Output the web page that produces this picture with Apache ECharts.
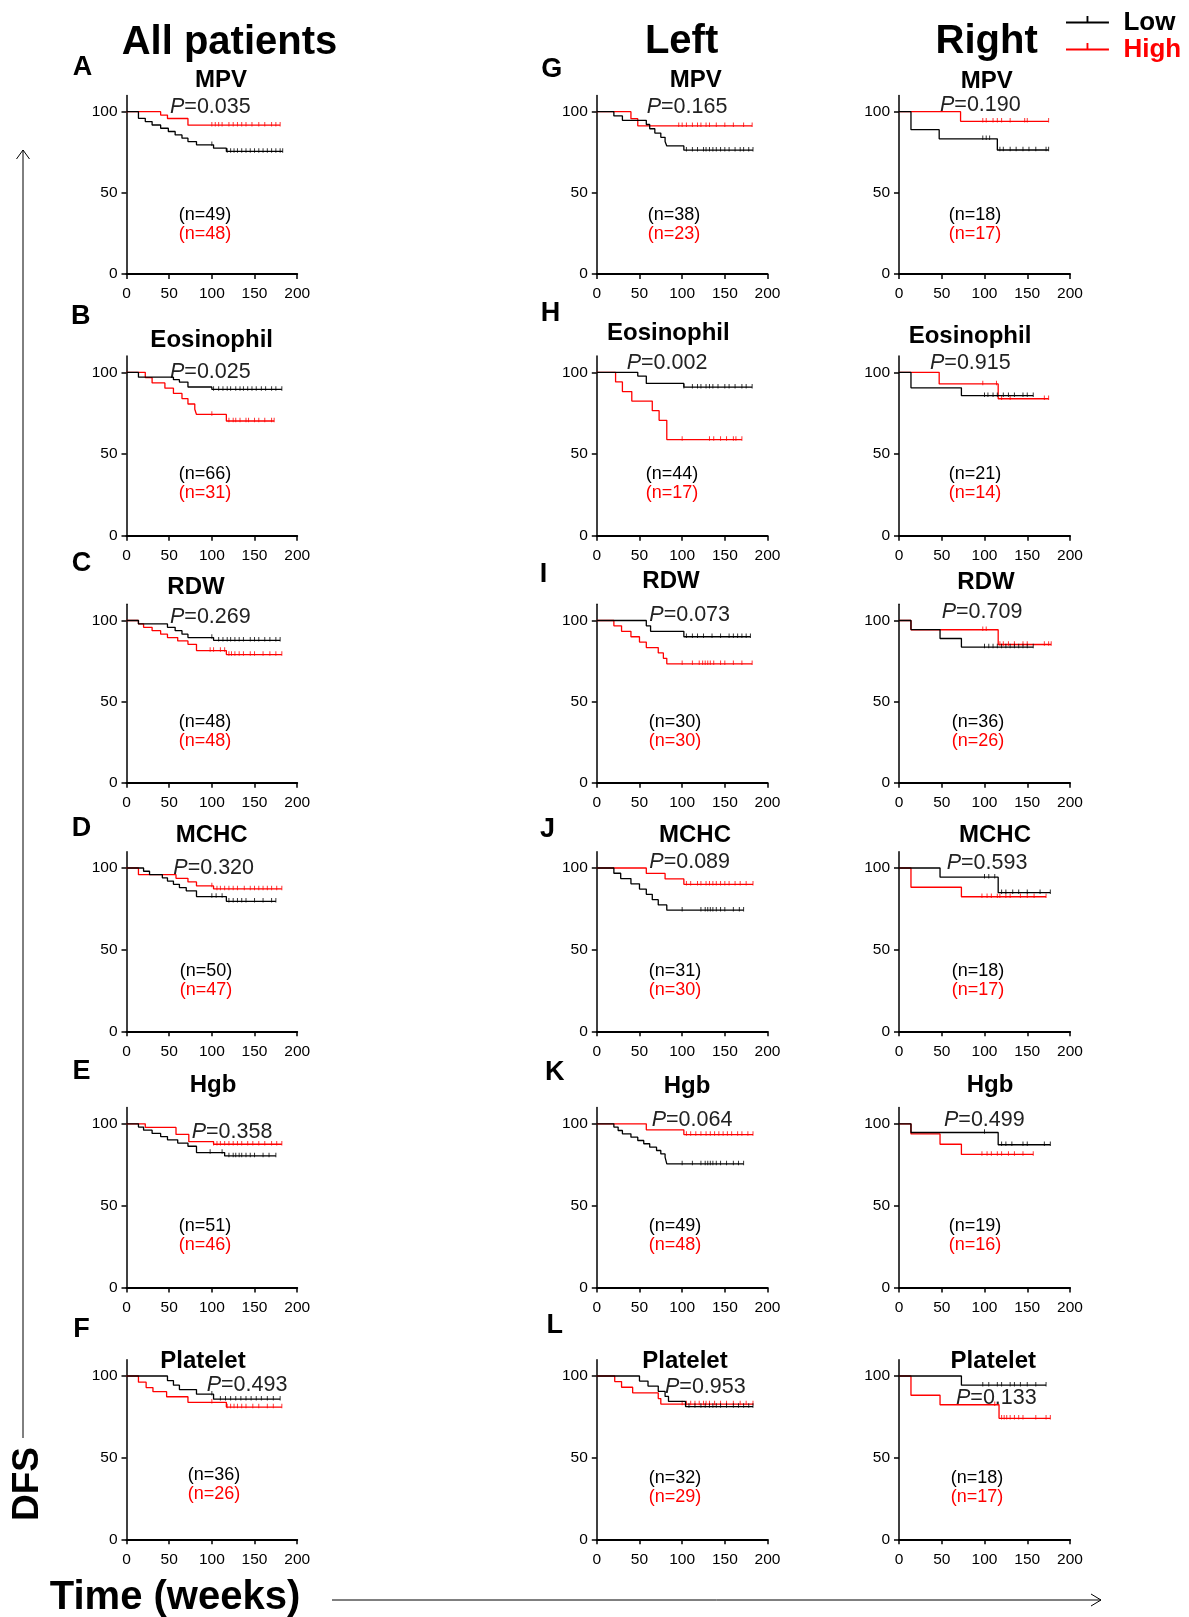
<!DOCTYPE html>
<html>
<head>
<meta charset="utf-8">
<title>DFS Kaplan-Meier panels</title>
<script src="https://cdn.jsdelivr.net/npm/echarts@6/dist/echarts.min.js"></script>
<style>
  html, body { margin: 0; padding: 0; background: #fff; }
  #main { width: 1189px; height: 1617px; }
</style>
</head>
<body>
<div id="main"></div>
<script>
  // ---- data: KM steps [week, DFS %] and censor weeks ----
  // All patients
  var A_low = [[0,100],[14,95.9],[22,93.9],[30,91.8],[40,89.8],[49,87.8],[57,85.7],[65,83.7],[72,81.6],[82,79.6],[102,77.5],[117,75.5]];
  var A_lowCens = [100,118,122,126,130,135,140,145,150,155,160,165,170,175,180,183];
  var A_high = [[0,100],[40,97.9],[48,95.8],[72,91.7]];
  var A_highCens = [100,104,108,112,120,125,130,135,140,147,155,162,170,175,180];

  var B_low = [[0,100],[14,97],[55,95.5],[62,94],[72,91],[100,89.5]];
  var B_lowCens = [102,108,113,118,122,128,133,137,142,147,152,158,163,170,175,182];
  var B_high = [[0,100],[22,96.8],[30,93.5],[45,90.3],[55,87.1],[65,83.9],[72,80.6],[80,77.4],[82,74.2],[117,70.2]];
  var B_highCens = [100,120,125,128,133,140,143,150,155,162,170,173];

  var C_low = [[0,100],[14,97.9],[48,95.8],[57,93.7],[65,91.6],[72,89.5],[102,87.8]];
  var C_lowCens = [100,108,113,118,122,127,132,137,145,150,155,162,168,175,180];
  var C_high = [[0,100],[14,97.9],[20,95.8],[30,93.7],[40,91.6],[48,89.5],[60,87.4],[72,85.3],[82,81.5],[117,79]];
  var C_highCens = [98,102,110,115,120,123,127,132,137,145,150,160,168,175,182];

  var D_low = [[0,100],[20,98],[27,96],[42,94],[48,92],[55,90],[62,88],[70,86],[82,82.5],[117,79.6]];
  var D_lowCens = [100,105,112,120,125,130,135,140,150,160,170,175];
  var D_high = [[0,100],[14,95.9],[58,93.7],[72,91.5],[82,89],[102,87.2]];
  var D_highCens = [100,106,110,115,120,125,130,138,145,150,155,160,165,170,176,182];

  var E_low = [[0,100],[14,98],[20,96.1],[30,94.1],[40,92.2],[48,90.2],[60,88.2],[72,86.3],[82,82.4],[115,80.4]];
  var E_lowCens = [98,112,120,125,128,132,135,140,145,150,160,167,175];
  var E_high = [[0,100],[22,97.8],[58,93.5],[73,89.1],[102,87.5]];
  var E_highCens = [102,106,110,115,120,125,130,135,142,148,155,162,170,176,182];

  var F_low = [[0,100],[48,97.2],[55,94.4],[62,91.7],[82,88.9],[102,85.8]];
  var F_lowCens = [100,110,116,122,128,134,140,146,152,158,165,172,180];
  var F_high = [[0,100],[14,96.2],[23,92.9],[31,90.4],[47,87.3],[72,83.9],[117,81]];
  var F_highCens = [100,118,122,126,130,135,140,148,155,165,172,182];

  // Left
  var G_low = [[0,100],[20,97.4],[30,94.7],[58,92.1],[62,89.5],[68,86.8],[75,84.2],[80,81.6],[82,78.9],[102,76.3]];
  var G_lowCens = [105,112,118,125,128,132,136,140,145,150,155,162,168,172,178,183];
  var G_high = [[0,100],[40,95.7],[48,91.3]];
  var G_highCens = [96,100,105,112,118,122,128,132,140,150,160,172,182];

  var H_low = [[0,100],[48,97.7],[58,93.2],[102,90.9]];
  var H_lowCens = [102,112,118,122,128,132,136,142,150,155,162,170,175,182];
  var H_high = [[0,100],[22,94.1],[30,88.2],[41,82.4],[65,76.5],[73,70.6],[82,58.8]];
  var H_highCens = [100,132,137,145,152,160,163,170];

  var I_low = [[0,100],[58,96.7],[63,93.3],[102,90]];
  var I_lowCens = [105,112,118,125,135,145,155,160,165,170,175,180];
  var I_high = [[0,100],[20,96.7],[29,93.3],[40,90],[50,86.7],[58,83.3],[72,80],[78,76.7],[82,73.3]];
  var I_highCens = [100,112,120,124,127,130,133,137,145,150,160,170,182];

  var J_low = [[0,100],[20,96.8],[28,93.5],[40,90.3],[50,87.1],[58,83.9],[65,80.6],[72,77.4],[82,74.2]];
  var J_lowCens = [100,122,127,130,133,136,140,145,150,160,167,172];
  var J_high = [[0,100],[58,96.7],[80,93.3],[102,90]];
  var J_highCens = [105,110,118,122,128,132,136,140,145,150,155,162,168,175,183];

  var K_low = [[0,100],[20,98],[25,95.9],[30,93.9],[40,91.8],[48,89.8],[55,87.8],[62,85.7],[70,83.7],[75,81.6],[80,79.6],[82,75.5]];
  var K_lowCens = [100,112,122,127,130,133,136,140,145,152,160,166,172];
  var K_high = [[0,100],[58,96.3],[102,93.4]];
  var K_highCens = [105,110,116,122,128,133,138,143,148,153,158,165,170,177,183];

  var L_low = [[0,100],[50,96.9],[60,93.8],[72,90.6],[80,87.5],[84,84.4],[104,81.3]];
  var L_lowCens = [108,115,122,127,132,136,140,145,152,160,166,172,178,183];
  var L_high = [[0,100],[21,96.6],[29,93.1],[42,89.7],[72,86.2],[75,82.8]];
  var L_highCens = [100,105,110,115,120,125,128,132,138,145,152,160,168,175,183];

  // Right
  var M_low = [[0,100],[14,88.9],[47,83.3],[115,76.4]];
  var M_lowCens = [98,102,106,118,122,130,137,145,152,160,172,175];
  var M_high = [[0,100],[72,94.1]];
  var M_highCens = [98,102,110,115,120,130,147,150,175];

  var N_low = [[0,100],[14,90.5],[73,85.7]];
  var N_lowCens = [100,104,110,115,122,128,135,145,150,157];
  var N_high = [[0,100],[47,92.9],[116,83.8]];
  var N_highCens = [98,114,120,130,170,175];

  var O_low = [[0,100],[14,94.4],[48,88.9],[73,83.6]];
  var O_lowCens = [100,105,110,115,120,125,130,135,140,145,150,157];
  var O_high = [[0,100],[14,94.3],[116,85.2]];
  var O_highCens = [98,102,118,122,128,135,145,150,170,175,178];

  var P_low = [[0,100],[48,94.4],[116,84.9]];
  var P_lowCens = [100,105,112,120,125,133,140,150,165,177];
  var P_high = [[0,100],[14,88.2],[73,82.4]];
  var P_highCens = [97,103,108,115,118,125,130,142,150,158,172];

  var Q_low = [[0,100],[14,94.7],[116,87.2]];
  var Q_lowCens = [100,120,125,132,145,150,170,177];
  var Q_high = [[0,100],[14,93.8],[48,87.5],[73,81.3]];
  var Q_highCens = [97,103,108,115,120,128,135,145,157];

  var R_low = [[0,100],[73,94.4]];
  var R_lowCens = [98,105,115,120,130,135,142,150,160,172];
  var R_high = [[0,100],[14,88.2],[48,82.4],[117,74.1]];
  var R_highCens = [112,120,123,126,130,135,140,145,160,172,177];

  var titles = ['MPV','Eosinophil','RDW','MCHC','Hgb','Platelet'];
  var columnTitles = ['All patients','Left','Right'];
  var letters = ['A','B','C','D','E','F','G','H','I','J','K','L'];
  var pValues = ['0.035','0.025','0.269','0.320','0.358','0.493',
                 '0.165','0.002','0.073','0.089','0.064','0.953',
                 '0.190','0.915','0.709','0.593','0.499','0.133'];
  var nLow  = [49,66,48,50,51,36, 38,44,30,31,49,32, 18,21,36,18,19,18];
  var nHigh = [48,31,48,47,46,26, 23,17,30,30,48,29, 17,14,26,17,16,17];
  var xTicks = [0,50,100,150,200];
  var yTicks = [0,50,100];

  var lowSteps  = [A_low,B_low,C_low,D_low,E_low,F_low,G_low,H_low,I_low,J_low,K_low,L_low,M_low,N_low,O_low,P_low,Q_low,R_low];
  var lowCens   = [A_lowCens,B_lowCens,C_lowCens,D_lowCens,E_lowCens,F_lowCens,G_lowCens,H_lowCens,I_lowCens,J_lowCens,K_lowCens,L_lowCens,M_lowCens,N_lowCens,O_lowCens,P_lowCens,Q_lowCens,R_lowCens];
  var highSteps = [A_high,B_high,C_high,D_high,E_high,F_high,G_high,H_high,I_high,J_high,K_high,L_high,M_high,N_high,O_high,P_high,Q_high,R_high];
  var highCens  = [A_highCens,B_highCens,C_highCens,D_highCens,E_highCens,F_highCens,G_highCens,H_highCens,I_highCens,J_highCens,K_highCens,L_highCens,M_highCens,N_highCens,O_highCens,P_highCens,Q_highCens,R_highCens];

  // ---- layout (pixels) ----
  var colX = [[126.5,297.2],[596.8,767.5],[899,1070]];
  var rowY = [[111.7,274],[372.3,535.7],[620.5,782.8],[868,1031.3],[1123.8,1287.5],[1376,1539.3]];
  var colTitlePos = [[229.5,43],[681.6,42],[986.7,42]];
  var letterPos = [[82.5,68],[80.7,316.7],[81.5,564],[81.5,829],[81.5,1072],[81.5,1330],
                   [551.7,69.3],[550.6,314],[543.4,575],[547.5,830],[554.7,1073],[554.7,1326]];
  var titlePos = [[221,80.7],[211.7,340],[196,587],[211.7,835],[213,1085],[203,1361.7],
                  [695.7,80.7],[668.3,333.3],[671,581],[695,835],[687,1086],[685,1361.7],
                  [986.7,81],[970,336.7],[986,582],[995,835],[990,1085],[993.3,1361.7]];
  var pPos = [[170,106.7],[170,371.7],[170,616.7],[173.3,868.3],[191.7,1131.7],[206.7,1385],
              [646.7,106.7],[626.7,363.3],[649.3,615],[649.3,861.7],[651.7,1120],[665,1386.7],
              [940,105],[930,363.3],[941.7,611.7],[946.7,863.3],[944,1120],[956,1398.3]];
  var nPos = [[205,215],[205,474],[205,722],[206,971],[205,1226],[214,1475],
              [674,215],[672,474],[675,722],[675,971],[675,1226],[675,1478],
              [975,215],[975,474],[978,722],[978,971],[975,1226],[977,1478]];

  var RED = '#ff0000';
  var BLACK = '#000000';
  var FONT = 'Arial, "Liberation Sans", sans-serif';

  function survAt(steps, t) {
    var s = 100;
    for (var i = 0; i < steps.length; i++) {
      if (steps[i][0] <= t) s = steps[i][1];
    }
    return s;
  }
  function lineData(steps, cens) {
    var last = steps[steps.length - 1];
    var end = Math.max.apply(null, cens);
    return steps.concat([[end, last[1]]]);
  }

  var grids = [], xAxes = [], yAxes = [], series = [], graphics = [];

  for (var i = 0; i < 18; i++) {
    var col = Math.floor(i / 6), row = i % 6;
    var x0 = colX[col][0], x1 = colX[col][1];
    var y100 = rowY[row][0], y0 = rowY[row][1];
    var gridTop = y100 - (y0 - y100) * 0.1;
    grids.push({left: x0, top: gridTop, width: x1 - x0, height: y0 - gridTop});

    xAxes.push({
      gridIndex: i, type: 'value', min: 0, max: 200, interval: 50,
      axisLine: {lineStyle: {color: BLACK, width: 2}},
      axisTick: {length: 5, lineStyle: {color: BLACK, width: 1.5}, customValues: xTicks},
      axisLabel: {color: BLACK, fontSize: 15.5, margin: 12, fontFamily: FONT, customValues: xTicks},
      splitLine: {show: false}
    });
    yAxes.push({
      gridIndex: i, type: 'value', min: 0, max: 110, interval: 50,
      axisLine: {show: true, lineStyle: {color: BLACK, width: 1.5}},
      axisTick: {show: true, length: 5, lineStyle: {color: BLACK, width: 1.5}, customValues: yTicks},
      axisLabel: {color: BLACK, fontSize: 15.5, margin: 9, fontFamily: FONT, customValues: yTicks,
        formatter: function (v) { return v > 100 ? '' : v; }},
      splitLine: {show: false}
    });

    // high drawn first, low on top
    [['High', highSteps[i], highCens[i], RED, 2], ['Low', lowSteps[i], lowCens[i], BLACK, 4]].forEach(function (c) {
      series.push({
        name: c[0], type: 'line', xAxisIndex: i, yAxisIndex: i, step: 'end',
        data: lineData(c[1], c[2]), showSymbol: false, z: c[4],
        lineStyle: {color: c[3], width: 1.3}, itemStyle: {color: c[3]}
      });
      series.push({
        name: c[0], type: 'scatter', xAxisIndex: i, yAxisIndex: i, z: c[4] + 1,
        data: c[2].map(function (t) { return [t, survAt(c[1], t)]; }),
        symbol: 'rect', symbolSize: [1, 4.5], symbolOffset: [0, -1], itemStyle: {color: c[3]}
      });
    });

    graphics.push({type: 'text', x: titlePos[i][0], y: titlePos[i][1],
      style: {text: titles[row], fontSize: 24, fontWeight: 'bold', fontFamily: FONT, fill: BLACK, align: 'center', verticalAlign: 'middle'}});
    graphics.push({type: 'text', x: pPos[i][0], y: pPos[i][1],
      style: {text: '{i|P}=' + pValues[i], fontSize: 21.5, fontFamily: FONT, fill: '#222', align: 'left', verticalAlign: 'middle',
        rich: {i: {fontStyle: 'italic', fontSize: 21.5, fontFamily: FONT, fill: '#222'}}}});
    graphics.push({type: 'text', x: nPos[i][0], y: nPos[i][1],
      style: {text: '(n=' + nLow[i] + ')', fontSize: 18, fontFamily: FONT, fill: BLACK, align: 'center', verticalAlign: 'middle'}});
    graphics.push({type: 'text', x: nPos[i][0], y: nPos[i][1] + 19.5,
      style: {text: '(n=' + nHigh[i] + ')', fontSize: 18, fontFamily: FONT, fill: RED, align: 'center', verticalAlign: 'middle'}});
    if (i < 12) {
      graphics.push({type: 'text', x: letterPos[i][0], y: letterPos[i][1],
        style: {text: letters[i], fontSize: 27, fontWeight: 'bold', fontFamily: FONT, fill: BLACK, align: 'center', verticalAlign: 'middle'}});
    }
  }

  columnTitles.forEach(function (t, k) {
    graphics.push({type: 'text', x: colTitlePos[k][0], y: colTitlePos[k][1],
      style: {text: t, fontSize: 40, fontWeight: 'bold', fontFamily: FONT, fill: BLACK, align: 'center', verticalAlign: 'middle'}});
  });

  // outer axis arrows + labels
  graphics.push({type: 'line', shape: {x1: 23, y1: 1438, x2: 23, y2: 150}, style: {stroke: BLACK, lineWidth: 1}});
  graphics.push({type: 'polyline', shape: {points: [[16.5, 159], [23, 150], [29.5, 159]]}, style: {stroke: BLACK, lineWidth: 1, fill: null}});
  graphics.push({type: 'line', shape: {x1: 332, y1: 1600, x2: 1101, y2: 1600}, style: {stroke: BLACK, lineWidth: 1}});
  graphics.push({type: 'polyline', shape: {points: [[1091, 1594], [1101, 1600], [1091, 1606]]}, style: {stroke: BLACK, lineWidth: 1, fill: null}});
  graphics.push({type: 'text', x: 28, y: 1484, rotation: Math.PI / 2,
    style: {text: 'DFS', fontSize: 37, fontWeight: 'bold', fontFamily: FONT, fill: BLACK, align: 'center', verticalAlign: 'middle'}});
  graphics.push({type: 'text', x: 175, y: 1598,
    style: {text: 'Time (weeks)', fontSize: 40, fontWeight: 'bold', fontFamily: FONT, fill: BLACK, align: 'center', verticalAlign: 'middle'}});

  // line with a small censor tick, padded so the line sits at the icon centre
  var legendIcon = 'path://M22,1H24V7H22Z M0,7H46V9H0Z M0,15.9H0.1V16H0Z';
  var option = {
    animation: false,
    textStyle: {fontFamily: FONT},
    legend: {
      orient: 'vertical', left: 1061, top: 5, itemWidth: 46, itemHeight: 14, itemGap: 1,
      textStyle: {fontSize: 26, fontWeight: 'bold', fontFamily: FONT, padding: [0, 0, 0, 8]},
      data: [
        {name: 'Low', icon: legendIcon, textStyle: {color: BLACK}},
        {name: 'High', icon: legendIcon, textStyle: {color: RED}}
      ]
    },
    grid: grids,
    xAxis: xAxes,
    yAxis: yAxes,
    series: series,
    graphic: graphics
  };

  var chart = echarts.init(document.getElementById('main'));
  chart.setOption(option);
</script>
</body>
</html>
